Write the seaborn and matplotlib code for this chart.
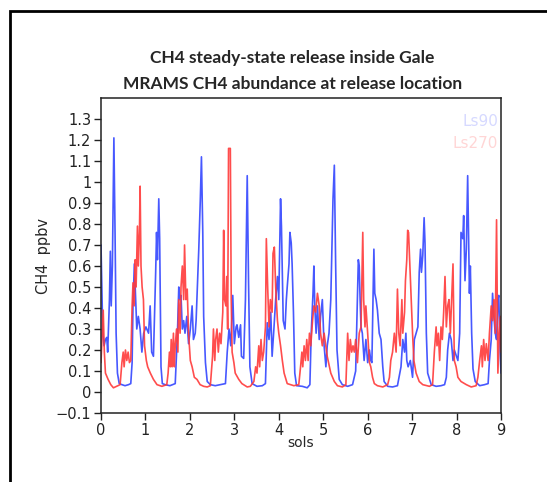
import numpy as np
import pandas as pd
import matplotlib
matplotlib.use('Agg')
import matplotlib.pyplot as plt
import seaborn as sns
from matplotlib.patches import Rectangle

# values
blue_sol = [0.00, 0.04, 0.07, 0.10, 0.13, 0.15, 0.19, 0.21, 0.23, 0.256, 0.29, 0.316, 0.34, 0.37, 0.41,
            0.47, 0.54, 0.62, 0.67, 0.70, 0.72, 0.75, 0.775, 0.805, 0.84, 0.88, 0.92, 0.96, 1.01, 1.07,
            1.106, 1.14, 1.18, 1.23, 1.25, 1.27, 1.30, 1.32, 1.35, 1.38, 1.445, 1.55, 1.67, 1.72, 1.75,
            1.77, 1.80, 1.83, 1.86, 1.89, 1.93, 1.97, 2.01, 2.05, 2.08, 2.12, 2.14, 2.20, 2.235, 2.26,
            2.29, 2.31, 2.35, 2.39, 2.46, 2.57, 2.69, 2.80, 2.84, 2.88, 2.92, 2.965, 3.00, 3.04, 3.06,
            3.10, 3.14, 3.16, 3.21, 3.25, 3.29, 3.32, 3.35, 3.40, 3.51, 3.63, 3.70, 3.74, 3.78, 3.82,
            3.85, 3.89, 3.93, 3.97, 4.00, 4.04, 4.06, 4.10, 4.14, 4.17, 4.19, 4.23, 4.25, 4.28, 4.30,
            4.33, 4.36, 4.40, 4.53, 4.64, 4.70, 4.73, 4.77, 4.79, 4.81, 4.84, 4.87, 4.91, 4.94, 4.98,
            5.02, 5.06, 5.09, 5.13, 5.17, 5.22, 5.25, 5.28, 5.31, 5.36, 5.43, 5.55, 5.66, 5.73, 5.79,
            5.81, 5.83, 5.85, 5.88, 5.92, 5.96, 6.00, 6.04, 6.07, 6.095, 6.12, 6.14, 6.16, 6.19, 6.22,
            6.26, 6.30, 6.34, 6.37, 6.45, 6.56, 6.67, 6.75, 6.79, 6.83, 6.86, 6.88, 6.91, 6.96, 7.01,
            7.05, 7.09, 7.13, 7.16, 7.19, 7.21, 7.24, 7.27, 7.29, 7.32, 7.35, 7.43, 7.54, 7.65, 7.73,
            7.77, 7.80, 7.84, 7.88, 7.92, 7.95, 8.03, 8.07, 8.10, 8.14, 8.16, 8.19, 8.22, 8.25, 8.27,
            8.29, 8.31, 8.34, 8.37, 8.42, 8.52, 8.63, 8.71, 8.74, 8.78, 8.81, 8.84, 8.87, 8.90, 8.93,
            8.95, 8.98, 9.00]
blue_ppbv = [0.70, 0.28, 0.22, 0.25, 0.26, 0.19, 0.44, 0.67, 0.41, 0.60, 1.21, 0.76, 0.28, 0.09, 0.04,
             0.035, 0.03, 0.035, 0.04, 0.14, 0.41, 0.61, 0.47, 0.30, 0.36, 0.30, 0.19, 0.28, 0.31, 0.28,
             0.41, 0.19, 0.17, 0.57, 0.76, 0.63, 0.92, 0.73, 0.12, 0.04, 0.035, 0.03, 0.04, 0.28, 0.50,
             0.44, 0.46, 0.30, 0.34, 0.28, 0.36, 0.23, 0.30, 0.41, 0.25, 0.28, 0.34, 0.68, 0.92, 1.12,
             0.76, 0.36, 0.14, 0.05, 0.035, 0.03, 0.035, 0.04, 0.19, 0.30, 0.22, 0.46, 0.23, 0.31, 0.32,
             0.26, 0.32, 0.17, 0.16, 0.44, 1.03, 0.52, 0.12, 0.04, 0.027, 0.03, 0.04, 0.33, 0.25, 0.38,
             0.17, 0.30, 0.44, 0.55, 0.44, 0.92, 0.79, 0.34, 0.30, 0.44, 0.50, 0.61, 0.76, 0.71, 0.61,
             0.38, 0.09, 0.03, 0.027, 0.02, 0.035, 0.28, 0.47, 0.60, 0.41, 0.28, 0.41, 0.25, 0.36, 0.44,
             0.22, 0.12, 0.22, 0.28, 0.44, 0.92, 1.08, 0.60, 0.20, 0.06, 0.035, 0.027, 0.035, 0.10, 0.63,
             0.60, 0.44, 0.31, 0.28, 0.15, 0.25, 0.14, 0.20, 0.15, 0.14, 0.44, 0.68, 0.47, 0.44, 0.39,
             0.28, 0.25, 0.12, 0.05, 0.027, 0.024, 0.03, 0.12, 0.25, 0.19, 0.28, 0.15, 0.12, 0.15, 0.07,
             0.25, 0.28, 0.31, 0.57, 0.68, 0.57, 0.65, 0.83, 0.71, 0.28, 0.09, 0.035, 0.027, 0.03, 0.035,
             0.07, 0.20, 0.28, 0.25, 0.15, 0.20, 0.15, 0.28, 0.76, 0.73, 0.84, 0.53, 0.68, 1.03, 0.76,
             0.47, 0.60, 0.28, 0.11, 0.05, 0.03, 0.035, 0.04, 0.15, 0.25, 0.47, 0.36, 0.28, 0.25, 0.44,
             0.46, 0.19, 0.09]

red_sol = [0.00, 0.05, 0.075, 0.10, 0.16, 0.22, 0.28, 0.35, 0.43, 0.47, 0.50, 0.52, 0.55, 0.58, 0.61,
           0.64, 0.67, 0.70, 0.72, 0.745, 0.77, 0.79, 0.82, 0.84, 0.865, 0.88, 0.90, 0.925, 0.955, 0.98,
           1.02, 1.05, 1.11, 1.18, 1.26, 1.37, 1.48, 1.51, 1.54, 1.56, 1.58, 1.60, 1.63, 1.65, 1.67,
           1.70, 1.73, 1.75, 1.78, 1.80, 1.83, 1.86, 1.88, 1.91, 1.94, 1.97, 2.01, 2.05, 2.10, 2.16,
           2.23, 2.31, 2.39, 2.46, 2.51, 2.53, 2.56, 2.58, 2.61, 2.64, 2.67, 2.70, 2.74, 2.76, 2.78,
           2.81, 2.83, 2.85, 2.87, 2.91, 2.93, 2.95, 2.99, 3.02, 3.10, 3.17, 3.29, 3.36, 3.44, 3.48,
           3.51, 3.55, 3.57, 3.60, 3.63, 3.66, 3.70, 3.72, 3.75, 3.78, 3.81, 3.85, 3.87, 3.90, 3.93,
           3.97, 4.00, 4.04, 4.08, 4.12, 4.19, 4.34, 4.45, 4.49, 4.52, 4.54, 4.57, 4.60, 4.63, 4.66,
           4.69, 4.72, 4.76, 4.79, 4.83, 4.87, 4.91, 4.94, 4.98, 5.02, 5.09, 5.17, 5.25, 5.32, 5.43,
           5.51, 5.55, 5.58, 5.61, 5.64, 5.67, 5.70, 5.73, 5.77, 5.81, 5.85, 5.87, 5.89, 5.91, 5.94,
           5.96, 6.00, 6.04, 6.07, 6.11, 6.15, 6.22, 6.34, 6.45, 6.49, 6.52, 6.56, 6.60, 6.64, 6.67,
           6.70, 6.73, 6.77, 6.79, 6.83, 6.85, 6.88, 6.90, 6.92, 6.95, 6.98, 7.01, 7.04, 7.09, 7.16,
           7.24, 7.39, 7.46, 7.50, 7.54, 7.56, 7.59, 7.62, 7.65, 7.68, 7.71, 7.74, 7.77, 7.80, 7.83,
           7.86, 7.92, 7.95, 7.99, 8.03, 8.10, 8.22, 8.33, 8.44, 8.48, 8.52, 8.56, 8.58, 8.61, 8.64,
           8.67, 8.71, 8.74, 8.78, 8.81, 8.84, 8.87, 8.90, 8.93, 8.96, 8.99, 9.00]
red_ppbv = [0.14, 0.39, 0.19, 0.09, 0.06, 0.035, 0.02, 0.027, 0.035, 0.14, 0.19, 0.12, 0.20, 0.15, 0.19,
            0.14, 0.15, 0.41, 0.52, 0.41, 0.63, 0.50, 0.79, 0.60, 0.76, 0.98, 0.60, 0.50, 0.44, 0.22,
            0.15, 0.12, 0.09, 0.06, 0.035, 0.027, 0.035, 0.09, 0.19, 0.12, 0.25, 0.12, 0.28, 0.12, 0.22,
            0.30, 0.19, 0.44, 0.28, 0.50, 0.60, 0.44, 0.70, 0.44, 0.49, 0.28, 0.15, 0.12, 0.07, 0.06,
            0.035, 0.027, 0.024, 0.03, 0.17, 0.30, 0.15, 0.25, 0.30, 0.19, 0.28, 0.23, 0.38, 0.77, 0.44,
            0.41, 0.55, 0.30, 1.16, 1.16, 0.44, 0.19, 0.14, 0.09, 0.06, 0.04, 0.024, 0.027, 0.05, 0.12,
            0.09, 0.22, 0.12, 0.25, 0.15, 0.19, 0.31, 0.73, 0.50, 0.31, 0.44, 0.38, 0.66, 0.69, 0.50,
            0.34, 0.28, 0.22, 0.15, 0.09, 0.04, 0.03, 0.035, 0.12, 0.19, 0.12, 0.22, 0.15, 0.25, 0.15,
            0.28, 0.22, 0.34, 0.41, 0.38, 0.47, 0.41, 0.28, 0.22, 0.28, 0.17, 0.09, 0.05, 0.03, 0.024,
            0.035, 0.28, 0.15, 0.25, 0.19, 0.22, 0.19, 0.25, 0.14, 0.28, 0.31, 0.53, 0.76, 0.44, 0.31,
            0.41, 0.28, 0.14, 0.12, 0.07, 0.04, 0.03, 0.024, 0.035, 0.07, 0.15, 0.19, 0.28, 0.19, 0.49,
            0.28, 0.22, 0.44, 0.28, 0.38, 0.53, 0.63, 0.77, 0.76, 0.60, 0.44, 0.28, 0.15, 0.09, 0.05,
            0.035, 0.027, 0.035, 0.19, 0.31, 0.22, 0.28, 0.15, 0.31, 0.25, 0.38, 0.55, 0.31, 0.41, 0.44,
            0.28, 0.61, 0.15, 0.12, 0.07, 0.05, 0.035, 0.024, 0.03, 0.07, 0.15, 0.22, 0.12, 0.25, 0.15,
            0.23, 0.15, 0.28, 0.41, 0.34, 0.44, 0.28, 0.82, 0.09, 0.28, 0.36, 0.19]

ytick_vals = [-0.1, 0, 0.1, 0.2, 0.3, 0.4, 0.5, 0.6, 0.7, 0.8, 0.9, 1.0, 1.1, 1.2, 1.3]
ytick_labels = ['\u22120.1', '0', '0.1', '0.2', '0.3', '0.4', '0.5', '0.6', '0.7', '0.8', '0.9',
                '1', '1.1', '1.2', '1.3']
xtick_vals = [0, 1, 2, 3, 4, 5, 6, 7, 8, 9]

blue_df = pd.DataFrame({'sols': blue_sol, 'ppbv': blue_ppbv})
red_df = pd.DataFrame({'sols': red_sol, 'ppbv': red_ppbv})

sns.set_style('white')
plt.rcParams['font.family'] = ['DejaVu Sans']

fig = plt.figure(figsize=(5.47, 4.82), dpi=100)
ax = fig.add_axes([101 / 547, 1 - 413 / 482, 400 / 547, 315 / 482])

sns.lineplot(data=blue_df, x='sols', y='ppbv', ax=ax, color='#3346ff', lw=1.2, alpha=0.9)
sns.lineplot(data=red_df, x='sols', y='ppbv', ax=ax, color='#ff3a3a', lw=1.2, alpha=0.9)

ax.set_xlim(0, 9)
ax.set_ylim(-0.1, 1.4)
ax.set_xticks(xtick_vals)
ax.set_yticks(ytick_vals)
ax.set_yticklabels(ytick_labels)
ax.tick_params(axis='both', direction='out', length=5, width=1, labelsize=10.5, pad=2,
               left=True, bottom=True, top=False, right=False, colors='#222222')
for sp in ax.spines.values():
    sp.set_color('#222222')
    sp.set_linewidth(1.1)

ax.set_xlabel('sols', fontsize=10, labelpad=-1)
ax.set_ylabel('CH4  ppbv', fontsize=10.5, labelpad=3)

ax.text(0.993, 0.924, 'Ls90', transform=ax.transAxes, ha='right', va='center',
        fontsize=11, color='#d6d9ff')
ax.text(0.993, 0.854, 'Ls270', transform=ax.transAxes, ha='right', va='center',
        fontsize=11, color='#ffd6d6')

fig.text(0.535, 1 - 58 / 482, 'CH4 steady-state release inside Gale', ha='center', va='center',
         fontsize=12.5, fontweight='bold', family='Lato')
fig.text(0.535, 1 - 84 / 482, 'MRAMS CH4 abundance at release location', ha='center', va='center',
         fontsize=12.5, fontweight='bold', family='Lato')

# outer frame, running off the right and bottom edges
fig.add_artist(Rectangle((10 / 547, -0.1), 1.2, 1 - 11 / 482 + 0.1, transform=fig.transFigure,
                         fill=False, edgecolor='black', lw=2))

fig.savefig('out.png', dpi=100)
